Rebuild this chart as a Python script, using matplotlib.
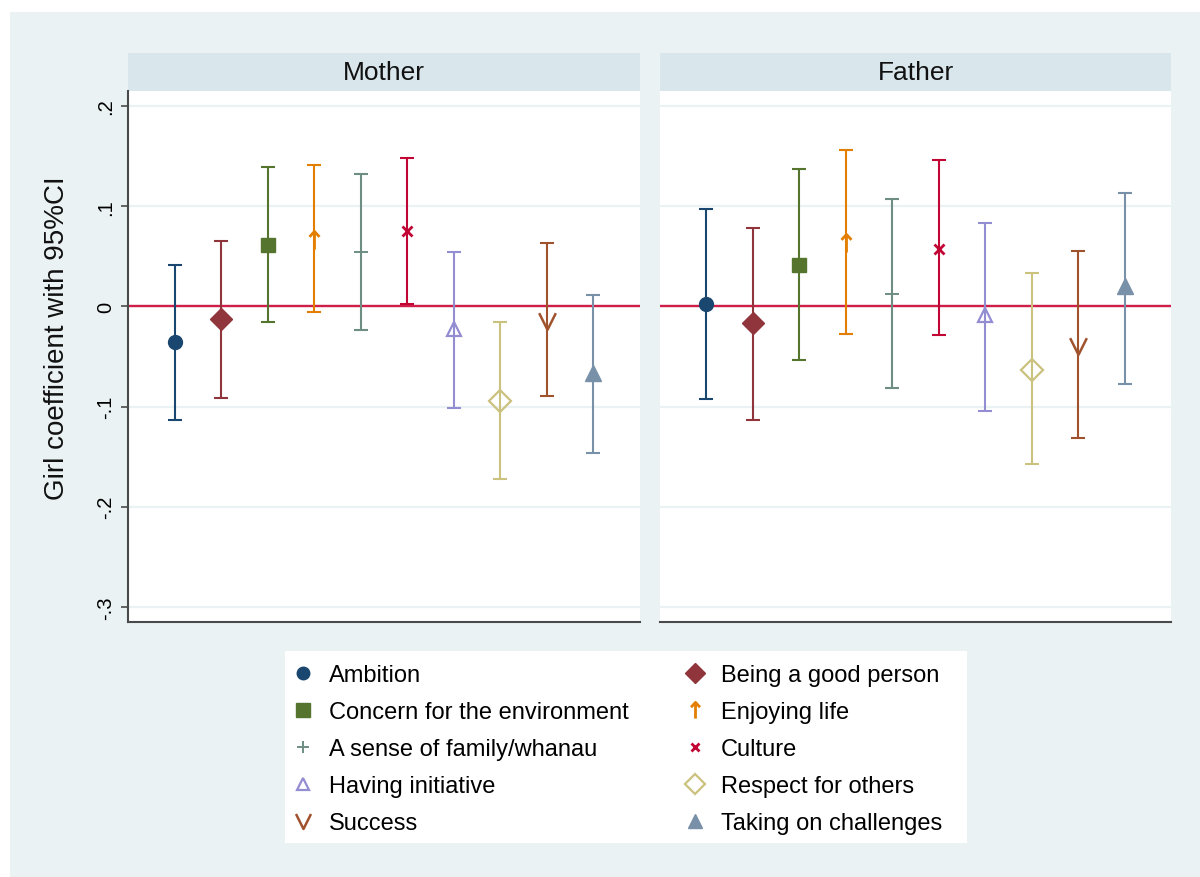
import numpy as np
import matplotlib
matplotlib.use("Agg")
import matplotlib.pyplot as plt
from matplotlib.lines import Line2D
from matplotlib.patches import Rectangle
from matplotlib.path import Path

plt.rcParams['font.family'] = ['Liberation Sans', 'DejaVu Sans']

# values (girl coefficient, lower and upper 95% CI)
VALUES = ["Ambition", "Being a good person", "Concern for the environment",
          "Enjoying life", "A sense of family/whanau", "Culture",
          "Having initiative", "Respect for others", "Success",
          "Taking on challenges"]
PANELS = ["Mother", "Father"]

mother_coef = [-0.036, -0.013, 0.061, 0.066, 0.054, 0.075, -0.023, -0.094, -0.015, -0.066]
mother_lo = [-0.113, -0.091, -0.016, -0.006, -0.024, 0.002, -0.101, -0.172, -0.089, -0.146]
mother_hi = [0.041, 0.065, 0.139, 0.141, 0.132, 0.148, 0.054, -0.016, 0.063, 0.011]

father_coef = [0.002, -0.017, 0.041, 0.063, 0.012, 0.057, -0.009, -0.063, -0.040, 0.020]
father_lo = [-0.092, -0.113, -0.053, -0.028, -0.081, -0.029, -0.104, -0.157, -0.131, -0.077]
father_hi = [0.097, 0.078, 0.137, 0.156, 0.107, 0.146, 0.083, 0.033, 0.055, 0.113]

YTICKS = [0.2, 0.1, 0.0, -0.1, -0.2, -0.3]
YTICK_LABELS = [".2", ".1", "0", "-.1", "-.2", "-.3"]

# stata s2color palette
COLORS = ["#1a476f", "#90353b", "#55752f", "#e37e00", "#6e8e84",
          "#c10534", "#938dd2", "#cac27e", "#a0522d", "#7890a8"]

arrow_up = Path([(0, -1), (0, 1), (-0.55, 0.4), (0, 1), (0.55, 0.4)],
                [Path.MOVETO, Path.LINETO, Path.MOVETO, Path.LINETO, Path.LINETO])
chevron_down = Path([(-0.5, 0.5), (0, -0.5), (0.5, 0.5)],
                    [Path.MOVETO, Path.LINETO, Path.LINETO])

# marker, size, filled, edge width
MARKERS = [("o", 10, True, 1), ("D", 11, True, 1), ("s", 10.5, True, 1),
           (arrow_up, 13, False, 2.0), ("+", 10, False, 1.4), ("x", 7, False, 2.0),
           ("^", 10, False, 1.6), ("D", 11, False, 1.6), (chevron_down, 12, False, 1.8),
           ("^", 11, True, 1)]

BG = "#eaf2f3"
W, H = 1200, 878
fig = plt.figure(figsize=(W / 100, H / 100), dpi=100, facecolor="white")
fig.patches.append(Rectangle((10 / W, 0), 1 - 10 / W, 1 - 13 / H, transform=fig.transFigure,
                             facecolor=BG, edgecolor="none", zorder=-10))


def px(x0, y0, x1, y1):
    return [x0 / W, 1 - y1 / H, (x1 - x0) / W, (y1 - y0) / H]


ax_m = fig.add_axes(px(128, 92, 640, 623))
ax_f = fig.add_axes(px(660, 92, 1171, 623))

xpos = np.arange(1, len(VALUES) + 1)
for ax, name, coef, lo, hi, (hx0, hx1) in [
        (ax_m, "Mother", mother_coef, mother_lo, mother_hi, (128, 640)),
        (ax_f, "Father", father_coef, father_lo, father_hi, (660, 1171))]:
    coef = np.array(coef)
    yerr = np.vstack([coef - np.array(lo), np.array(hi) - coef])
    for i in range(len(VALUES)):
        m, ms, filled, mew = MARKERS[i]
        ax.errorbar(xpos[i], coef[i], yerr=yerr[:, i:i + 1], fmt="none",
                    ecolor=COLORS[i], elinewidth=1.5, capsize=4.8, capthick=1.5, zorder=3)
        ax.plot(xpos[i], coef[i], marker=m, markersize=ms, linestyle="none",
                markerfacecolor=COLORS[i] if filled else "none",
                markeredgecolor=COLORS[i], markeredgewidth=mew, zorder=4)
    ax.axhline(0, color="#cf1f48", lw=1.7, zorder=2)
    ax.set_xlim(0, 11)
    ax.set_ylim(-0.315, 0.215)
    ax.set_yticks(YTICKS)
    ax.yaxis.grid(True, color=BG, lw=1.6)
    ax.set_axisbelow(True)
    ax.set_xticks([])
    ax.set_facecolor("white")
    for s in ["top", "right", "left"]:
        ax.spines[s].set_visible(False)
    ax.spines["bottom"].set_color("#4a4a4a")
    ax.spines["bottom"].set_linewidth(1.5)
    # panel header strip
    fig.patches.append(Rectangle((hx0 / W, 1 - 92 / H), (hx1 - hx0) / W, 38 / H,
                                 transform=fig.transFigure, facecolor="#d9e6eb",
                                 edgecolor="none", zorder=-5))
    fig.text((hx0 + hx1) / 2 / W, 1 - 73 / H, name, ha="center", va="center",
             fontsize=19, color="#111111")

ax_m.spines["left"].set_visible(True)
ax_m.spines["left"].set_color("#4a4a4a")
ax_m.spines["left"].set_linewidth(1.5)
ax_m.set_yticklabels(YTICK_LABELS, rotation=90, va="center", fontsize=14.5)
ax_m.tick_params(axis="y", length=5, width=1.2, color="#4a4a4a", pad=4)
ax_f.tick_params(axis="y", left=False, labelleft=False)

fig.text(57 / W, 1 - 338 / H, "Girl coefficient with 95%CI", rotation=90,
         ha="center", va="center", fontsize=20, color="#111111")

# legend: white box, two columns filled row by row
fig.patches.append(Rectangle((285 / W, 1 - 844 / H), (967 - 285) / W, (844 - 652) / H,
                             transform=fig.transFigure, facecolor="white",
                             edgecolor="none", zorder=-4))
handles = []
for i in range(len(VALUES)):
    m, ms, filled, mew = MARKERS[i]
    handles.append(Line2D([], [], marker=m, markersize=ms * 0.9, linestyle="none",
                          markerfacecolor=COLORS[i] if filled else "none",
                          markeredgecolor=COLORS[i], markeredgewidth=mew))
order = [0, 2, 4, 6, 8, 1, 3, 5, 7, 9]
fig.legend([handles[i] for i in order], [VALUES[i] for i in order], ncol=2,
           loc="upper left", bbox_to_anchor=(291 / W, 1 - 665 / H), frameon=False,
           fontsize=17, handlelength=1.0, handletextpad=0.6, columnspacing=2.3,
           labelspacing=0.64, borderpad=0, borderaxespad=0)

fig.savefig("out.png", dpi=100, facecolor=fig.get_facecolor())
